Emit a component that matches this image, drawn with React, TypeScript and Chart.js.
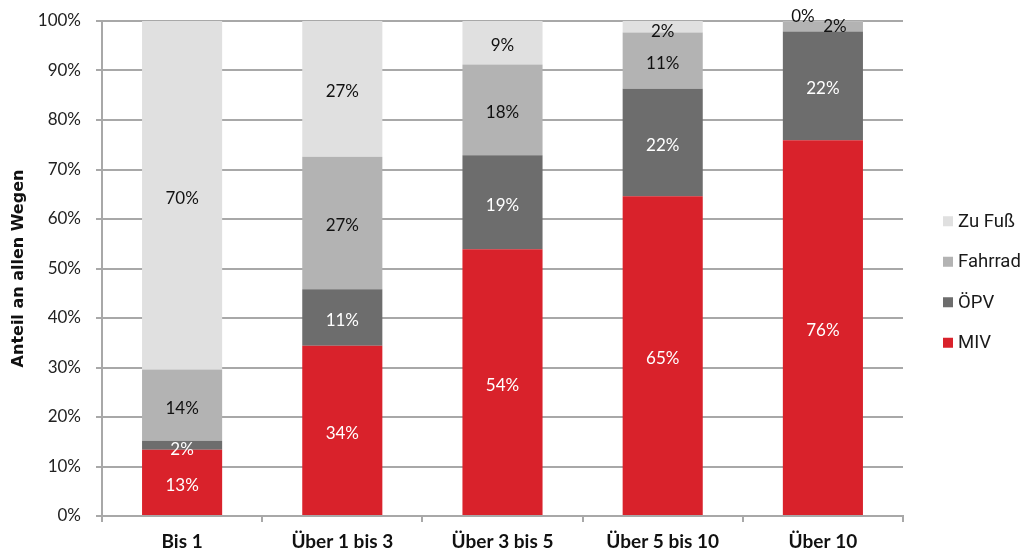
import React, { useEffect, useRef } from "react";
import { Chart, registerables } from "chart.js";

Chart.register(...registerables);

// Distance bands (km)
const categories = ["Bis 1", "Über 1 bis 3", "Über 3 bis 5", "Über 5 bis 10", "Über 10"];

// Share of all trips per mode, in percent
const miv = [13.4, 34.4, 53.9, 64.6, 75.9];
const oepv = [1.8, 11.4, 19.0, 21.7, 22.0];
const fahrrad = [14.4, 26.8, 18.3, 11.4, 2.0];
const zuFuss = [70.4, 27.4, 8.8, 2.3, 0.1];

const seriesNames = ["MIV", "ÖPV", "Fahrrad", "Zu Fuß"];
const yTicks = [0, 10, 20, 30, 40, 50, 60, 70, 80, 90, 100];
const yTitle = "Anteil an allen Wegen";

const COLORS = ["#d9222b", "#6d6d6d", "#b3b3b3", "#e0e0e0"];
const LABEL_COLORS = ["#ffffff", "#ffffff", "#111111", "#111111"];
const GRID = "#a8a8a8";
const LEGEND_WIDTH = 122;

// Small nudges for labels on very thin segments: [dataset][category] -> [dx, dy]
const labelNudge: Record<string, [number, number]> = {
  "1-0": [0, 1],
  "3-3": [0, 2],
  "2-4": [12, -3],
  "3-4": [-20, -8],
};

const segmentLabels = {
  id: "segmentLabels",
  afterDatasetsDraw(chart: Chart) {
    const { ctx } = chart;
    ctx.save();
    ctx.font = "17px Lato";
    ctx.textAlign = "center";
    ctx.textBaseline = "middle";
    chart.data.datasets.forEach((ds, di) => {
      const meta = chart.getDatasetMeta(di);
      meta.data.forEach((el: any, i: number) => {
        const v = ds.data[i] as number;
        const nudge = labelNudge[`${di}-${i}`] || [0, 0];
        const cx = el.x + nudge[0];
        const cy = (el.y + el.base) / 2 + 3 + nudge[1];
        ctx.fillStyle = LABEL_COLORS[di];
        ctx.fillText(`${Math.round(v)}%`, cx, cy);
      });
    });
    ctx.restore();
  },
};

// Rotated y-axis title, centred on the plot height
const axisTitle = {
  id: "axisTitle",
  afterDraw(chart: Chart) {
    const { ctx, chartArea } = chart;
    ctx.save();
    ctx.translate(19, (chartArea.top + chartArea.bottom) / 2);
    ctx.rotate(-Math.PI / 2);
    ctx.font = "bold 16px 'DejaVu Sans'";
    ctx.fillStyle = "#111";
    ctx.textAlign = "center";
    ctx.textBaseline = "middle";
    ctx.fillText(yTitle, 0, 0);
    ctx.restore();
  },
};

// Vertical legend in the right margin, top entry = top of the stack
const sideLegend = {
  id: "sideLegend",
  afterDraw(chart: Chart) {
    const { ctx, chartArea } = chart;
    const items = chart.data.datasets.map((ds, i) => ({ label: ds.label as string, color: COLORS[i] })).reverse();
    const gap = 40.5;
    const centerY = 282;
    const boxX = chartArea.right + 40;
    ctx.save();
    ctx.font = "18.5px Roboto";
    ctx.textAlign = "left";
    ctx.textBaseline = "middle";
    items.forEach((it, k) => {
      const y = centerY + (k - (items.length - 1) / 2) * gap;
      ctx.fillStyle = it.color;
      ctx.fillRect(boxX, y - 5, 10, 10);
      ctx.fillStyle = "#1a1a1a";
      ctx.fillText(it.label, boxX + 15, y + 1);
    });
    ctx.restore();
  },
};

export default function App() {
  const ref = useRef<HTMLCanvasElement>(null);

  useEffect(() => {
    if (!ref.current) return;
    const values = [miv, oepv, fahrrad, zuFuss];
    const chart = new Chart(ref.current, {
      type: "bar",
      data: {
        labels: categories,
        datasets: seriesNames.map((name, i) => ({
          label: name,
          data: values[i],
          backgroundColor: COLORS[i],
          borderWidth: 0,
          categoryPercentage: 1,
          barPercentage: 0.5,
        })),
      },
      options: {
        responsive: false,
        animation: false,
        layout: { padding: { top: 21, left: 0, right: LEGEND_WIDTH, bottom: 0 } },
        plugins: {
          legend: { display: false },
          tooltip: { enabled: false },
        },
        scales: {
          x: {
            stacked: true,
            grid: {
              display: true,
              drawOnChartArea: false,
              drawTicks: true,
              tickLength: 6,
              color: GRID,
              lineWidth: 2,
            },
            border: { display: true, color: GRID, width: 2 },
            ticks: {
              color: "#111",
              padding: 8,
              font: { family: "Lato", size: 19, weight: "bold" },
            },
            afterFit(scale: any) {
              scale.height = 38;
              scale.paddingLeft = 0;
              scale.paddingRight = 0;
            },
          },
          y: {
            stacked: true,
            min: 0,
            max: 100,
            afterBuildTicks(scale: any) {
              scale.ticks = yTicks.map((v) => ({ value: v }));
            },
            grid: {
              color: GRID,
              lineWidth: 2,
              tickLength: 6,
            },
            border: { display: true, color: GRID, width: 2 },
            ticks: {
              color: "#222",
              padding: 15,
              font: { family: "Lato", size: 17 },
              callback: (v: any) => `${v}%`,
            },
            afterFit(scale: any) {
              scale.width = 102;
              scale.paddingTop = 0;
              scale.paddingBottom = 0;
            },
          },
        },
      },
      plugins: [segmentLabels, axisTitle, sideLegend],
    });
    return () => chart.destroy();
  }, []);

  return (
    <div style={{ position: "absolute", left: 0, top: 0, width: 1025, height: 554, background: "#fff" }}>
      <canvas ref={ref} width={1025} height={554} />
    </div>
  );
}
